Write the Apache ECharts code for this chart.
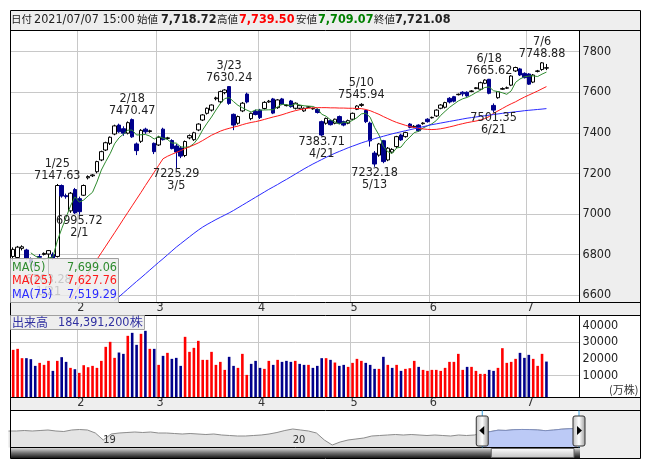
<!DOCTYPE html>
<html><head><meta charset="utf-8">
<script src="https://cdn.jsdelivr.net/npm/echarts@6/dist/echarts.min.js"></script>
<style>html,body{margin:0;padding:0;background:#fff}#c{width:653px;height:470px}</style>
</head><body><div id="c"></div>
<script>
// ---------- data ----------
const dates = ['1/8','1/12','1/13','1/14','1/15','1/18','1/19','1/20','1/21','1/22','1/25','1/26','1/27','1/28','1/29',
'2/1','2/2','2/3','2/4','2/5','2/8','2/9','2/10','2/12','2/15','2/16','2/17','2/18','2/19','2/22','2/24','2/25','2/26',
'3/1','3/2','3/3','3/4','3/5','3/8','3/9','3/10','3/11','3/12','3/15','3/16','3/17','3/18','3/19','3/22','3/23','3/24','3/25','3/26','3/29','3/30','3/31',
'4/1','4/2','4/5','4/6','4/7','4/8','4/9','4/12','4/13','4/14','4/15','4/16','4/19','4/20','4/21','4/22','4/23','4/26','4/27','4/28','4/30',
'5/6','5/7','5/10','5/11','5/12','5/13','5/14','5/17','5/18','5/19','5/20','5/21','5/24','5/25','5/26','5/27','5/28','5/31',
'6/1','6/2','6/3','6/4','6/7','6/8','6/9','6/10','6/11','6/14','6/15','6/16','6/17','6/18','6/21','6/22','6/23','6/24','6/25','6/28','6/29','6/30',
'7/1','7/2','7/5','7/6','7/7'];
const opens = [6790,6785,6830,6822,6775,6750,6790,6800,6802,6800,6790,7140,7090,7015,7120,
7075,7092,7178,7188,7208,7266,7315,7348,7394,7438,7420,7398,7465,7345,7358,7418,7406,7348,
7340,7418,7372,7362,7335,7325,7288,7375,7366,7414,7463,7496,7512,7568,7553,7598,7628,7491,7447,7508,7591,7470,7506,
7512,7520,7552,7567,7524,7567,7534,7557,7521,7521,7508,7526,7518,7515,7455,7447,7460,7447,7480,7455,7447,
7467,7516,7535,7510,7448,7300,7290,7361,7266,7305,7332,7389,7381,7443,7428,7438,7445,7467,
7474,7483,7521,7526,7570,7578,7588,7600,7600,7604,7618,7615,7644,7664,7535,7573,7615,7620,7635,7705,7715,7693,
7690,7650,7703,7712,7718.72];
const highs = [6835,6842,6845,6828,6785,6765,6802,6810,6822,6810,7147.63,7145,7100,7108,7128,
7085,7145,7190,7196,7262,7312,7356,7382,7440,7445,7432,7456,7470.47,7352,7418,7425,7415,7352,
7385,7425,7380,7368,7345,7335,7362,7392,7405,7447,7492,7525,7540,7578,7608,7615,7630.24,7495,7485,7552,7598,7500,7514,
7518,7556,7562,7572,7566,7572,7540,7562,7550,7538,7525,7532,7524,7520,7460,7475,7465,7470,7485,7460,7465,
7500,7536,7545.94,7515,7455,7310,7350,7365,7330,7324,7385,7395,7405,7448,7438,7442,7452,7472,
7480,7516,7541,7553,7576,7582,7594,7605,7604,7610,7625,7652,7664,7665.62,7545,7606,7624,7628,7684,7726,7720,7698,
7694,7690,7710,7748.88,7739.50];
const lows = [6770,6778,6820,6775,6740,6720,6780,6795,6703.28,6775,6785,7080,7075,7005,7000,
6995.72,7088,7170,7182,7200,7260,7310,7340,7388,7400,7385,7392,7375,7290,7350,7395,7400,7295,
7335,7362,7365,7318,7225.29,7275,7280,7368,7360,7408,7458,7490,7505,7560,7545,7590,7538,7413,7440,7502,7545,7462,7486,
7468,7515,7548,7492,7518,7536,7530,7524,7515,7516,7503,7522,7514,7495,7383.71,7440,7436,7442,7443,7432,7442,
7462,7512,7528,7448,7332,7232.18,7282,7250,7260,7298,7325,7360,7376,7422,7425,7405,7440,7450,
7470,7478,7516,7520,7545,7550,7584,7580,7578,7600,7615,7610,7640,7590,7501.35,7568,7612,7616,7630,7700,7680,7668,
7636,7645,7698,7706,7709.07];
const closes = [6825,6836,6838,6781,6760,6745,6786,6805,6819,6781,7140,7088,7085,7102,7005,
7011,7140,7184,7192,7258,7307,7351,7378,7434,7405,7398,7450,7380,7312,7412,7405,7410,7307,
7378,7366,7375,7322,7305,7285,7357,7386,7400,7443,7488,7521,7537,7572,7603,7611,7545,7438,7480,7546,7552,7496,7490,
7475,7550,7556,7497,7562,7541,7536,7529,7546,7534,7521,7528,7520,7500,7389,7471,7440,7467,7447,7438,7460,
7496,7532,7540,7455,7360,7246,7345,7258,7324,7318,7381,7365,7401,7427,7432,7410,7448,7455,
7476,7512,7537,7549,7552,7556,7590,7592,7582,7606,7622,7647,7660,7595,7512,7602,7618,7622,7680,7722,7685,7672,
7640,7685,7705,7745,7721.08];
// volume in 万株
const volumes = [25449,26048,20476,20476,19880,15868,17665,16467,18862,12874,18862,21077,18263,14671,13873,
11677,16268,15071,15868,14671,18862,27245,30239,20658,23853,23054,33832,35629,28443,35030,36826,26048,26048,
16467,21856,23653,20060,20658,15868,33233,24252,26646,30838,19461,19461,24252,16467,18263,13473,21276,15868,14671,23054,10479,17066,18862,
14671,14072,18862,16467,19461,18263,18862,18263,18862,17066,16467,16467,14671,15868,20476,20476,19461,17864,15868,16467,15269,
17665,20060,18862,17665,16467,14072,14072,21276,16467,14671,16467,12874,14072,14472,18862,15269,13473,12874,
13473,13473,12874,14671,18263,18263,23054,13473,15269,15269,12874,11078,11078,13473,12874,14671,26447,17665,18263,20060,23653,20658,
22455,20060,15868,23054,18439.12];
// moving averages (25 and 75 need history before the view)
const ma25 = [null,null,null,null,null,null,null,null,null,null,null,null,null,
6575,6608,6641,6675,6708,6741,6775,6808,6841,6874,6907,6940,6974,7007,7040,7073,7106,7140,7173,7206,7239,7272,
7284,7294,7303,7312,7322,7331,7340,7350,7362,7375,7388,7398,7408,7416,7422,7428,7433,7440,7446,7451,7455,
7460,7466,7472,7478,7483,7489,7496,7503,7509,7514,7518,7521,7523,7524,7524,7524,7523,7523,7522,7522,7521,
7521,7520,7519,7515,7509,7500,7491,7480,7470,7460,7451,7444,7437,7431,7426,7422,7419,7417,
7416,7417,7420,7424,7429,7434,7440,7445,7450,7454,7458,7463,7470,7480,7496,7508,7520,7532,7543,7553,7565,7576,
7586,7596,7606,7617,7627.76];
const ma75 = [null,null,null,null,null,null,null,null,null,null,null,null,null,null,null,null,null,null,null,null,null,null,null,
6573,6591,6610,6629,6648,6667,6685,6704,6723,6742,6761,6779,6798,6817,6836,6853,6870,6887,6904,6920,6935,6948,6960,6972,6983,6994,7005,7017,7030,7043,7056,7069,7082,
7095,7108,7121,7133,7145,7158,7170,7183,7196,7209,7222,7234,7246,7257,7268,7279,7289,7299,7308,7317,7326,
7334,7342,7350,7357,7364,7371,7377,7383,7389,7395,7400,7405,7410,7415,7420,7425,7430,7435,
7440,7444,7448,7452,7456,7460,7464,7468,7472,7475,7478,7481,7484,7487,7490,7493,7496,7499,7501,7504,7506,7509,
7511,7513,7515,7517,7519.29];
const maLegend = [['MA(5)','7,699.06'],['MA(25)','7,627.76'],['MA(75)','7,519.29']];
const yTicks = [6600,6800,7000,7200,7400,7600,7800];
const volTicks = [10000,20000,30000,40000];
const volGrid = [10000,30000];
const highMarks = ['1/25','2/18','3/23','5/10','6/18','7/6'];
const lowMarks = ['1/21','2/1','3/5','4/21','5/13','6/21'];
const headerStamp = '2021/07/07 15:00';
// long-range overview (half-month steps, mid-2018 .. Jul 2021)
const overview = [7235,7235,7338,7235,7338,7441,7235,7132,7441,7544,7441,6823,5381,6617,6823,6926,7029,6926,7029,6823,6823,6720,6617,6720,6617,6514,6617,6411,6308,6205,6205,6308,6411,6617,6926,7338,7647,7441,7235,6823,5381,4351,4969,5381,5587,5793,6205,6308,6411,6514,6411,6514,6411,6308,6411,6308,6205,6411,6308,6411,
6825,7100,7400,7350,7500,7550,7530,7450,7300,7420,7600,7700,7720];
const overviewYears = {12:'19', 36:'20'};
const selStart = 60;

// ---------- derived ----------
const FONT = '"DejaVu Sans Condensed","DejaVu Sans",sans-serif';
const JP = '"Noto Sans CJK JP",sans-serif';
const N = dates.length;
const cats = dates.concat(['x1','x2','x3','x4','x5','x6','x7']);
const month = i => dates[i].split('/')[0];
const isMonthStart = i => i > 0 && i < N && month(i) !== month(i - 1);
const ma5 = closes.map((c, i) => i < 4 ? null : +(closes.slice(i - 4, i + 1).reduce((a, b) => a + b, 0) / 5).toFixed(2));
const volUp = volumes.map((v, i) => (i === 0 ? closes[0] >= opens[0] : closes[i] >= closes[i - 1]) ? 1 : 0);
const VMIN = -3050, VMAX = 45993;
const fmt = v => v.toLocaleString('en-US', {minimumFractionDigits: 2, maximumFractionDigits: 2});

const marks = highMarks.map(d => { const i = dates.indexOf(d); return {coord: [d, highs[i]], label: {position: 'top', distance: 2, formatter: d + '\n' + highs[i].toFixed(2)}}; })
  .concat(lowMarks.map(d => { const i = dates.indexOf(d); return {coord: [d, lows[i]], label: {position: 'bottom', distance: 0, formatter: lows[i].toFixed(2) + '\n' + d}}; }));

const xCommon = {
  type: 'category', data: cats, boundaryGap: true,
  axisLine: {show: false}, axisTick: {show: false},
  axisLabel: {interval: (i) => isMonthStart(i), formatter: (v) => v.split('/')[0], margin: -1, lineHeight: 12, padding: [0, 0, 0, 3], fontSize: 12.5, fontFamily: FONT, color: '#333'},
  splitLine: {show: true, interval: (i) => isMonthStart(i), lineStyle: {color: '#c8c8c8', width: 1}}
};

const chart = echarts.init(document.getElementById('c'), null, {renderer: 'canvas'});
const option = {
  animation: false,
  backgroundColor: '#fff',
  grid: [
    {left: 11, top: 30.5, width: 568.5, height: 272, outerBoundsMode: 'none'},
    {left: 11, top: 315.5, width: 568.5, height: 82, outerBoundsMode: 'none'},
    {left: 8.5, top: 410.5, width: 568.5, height: 37, outerBoundsMode: 'none'}
  ],
  xAxis: [
    Object.assign({gridIndex: 0}, xCommon),
    Object.assign({gridIndex: 1}, xCommon),
    {gridIndex: 2, type: 'category', data: overview.map((v, i) => String(i)), boundaryGap: false, z: 10,
     axisLine: {show: false}, axisTick: {show: false}, splitLine: {show: false},
     axisLabel: {inside: true, interval: (i) => overviewYears[i] !== undefined, formatter: (v, i) => overviewYears[i] || '', align: 'left', margin: 2, fontSize: 11, fontFamily: FONT, color: '#333'}}
  ],
  yAxis: [
    {gridIndex: 0, type: 'value', position: 'right', min: 6563, max: 7904.5,
     axisLine: {show: false}, axisTick: {show: false, customValues: yTicks},
     axisLabel: {customValues: yTicks, formatter: v => String(v), margin: 3, align: 'left', color: '#222', fontSize: 12.5, fontFamily: FONT},
     splitLine: {show: true, lineStyle: {color: '#c8c8c8'}}},
    {gridIndex: 1, type: 'value', position: 'right', min: VMIN, max: VMAX,
     axisLine: {show: false}, axisTick: {show: false, customValues: volGrid},
     axisLabel: {customValues: volTicks, formatter: v => String(v), margin: 3, align: 'left', color: '#222', fontSize: 12.5, fontFamily: FONT},
     splitLine: {show: true, lineStyle: {color: '#c8c8c8'}}},
    {gridIndex: 2, type: 'value', min: 3836, max: 11458, show: false}
  ],
  series: [
    {type: 'candlestick', xAxisIndex: 0, yAxisIndex: 0, barWidth: 4, z: 3,
     data: dates.map((d, i) => [opens[i], closes[i], lows[i], highs[i]]),
     itemStyle: {color: '#ffffff', color0: '#00008b', borderColor: '#000000', borderColor0: '#00008b', borderWidth: 1},
     markPoint: {symbol: 'circle', symbolSize: 0, silent: true, z: 5,
       label: {show: true, color: '#222', fontSize: 12.5, fontFamily: FONT, lineHeight: 12},
       data: marks}},
    {type: 'line', name: 'MA5', xAxisIndex: 0, yAxisIndex: 0, data: ma5, symbol: 'none', z: 4, lineStyle: {color: '#2e8b2e', width: 1}},
    {type: 'line', name: 'MA25', xAxisIndex: 0, yAxisIndex: 0, data: ma25, symbol: 'none', z: 4, lineStyle: {color: '#ff1a1a', width: 1}},
    {type: 'line', name: 'MA75', xAxisIndex: 0, yAxisIndex: 0, data: ma75, symbol: 'none', z: 4, lineStyle: {color: '#2a2aff', width: 1}},
    {type: 'custom', xAxisIndex: 1, yAxisIndex: 1,
     data: volumes.map((v, i) => [i, v, volUp[i]]),
     renderItem: (params, api) => {
       const top = api.coord([api.value(0), api.value(1)]);
       const bot = api.coord([api.value(0), VMIN]);
       const w = 2.6;
       return {type: 'rect', shape: {x: top[0] - w / 2, y: top[1], width: w, height: bot[1] - top[1]},
               style: {fill: api.value(2) ? '#ff0000' : '#00008b'}};
     }},
    {type: 'line', xAxisIndex: 2, yAxisIndex: 2, data: overview, symbol: 'none', z: 2,
     lineStyle: {color: '#8c8c8c', width: 1}, areaStyle: {color: '#e4e4e4', opacity: 1}},
    {type: 'line', xAxisIndex: 2, yAxisIndex: 2, data: overview.map((v, i) => i >= selStart ? v : null), symbol: 'none', z: 3,
     lineStyle: {color: '#7f8fbf', width: 1}, areaStyle: {color: '#bccaf6', opacity: 1}}
  ]
};
chart.setOption(option);

// ---------- chrome (panels, frame, header, legends, slider handles) ----------
const hx1 = chart.convertToPixel({xAxisIndex: 2}, String(selStart));
const hx2 = chart.convertToPixel({xAxisIndex: 2}, String(overview.length - 1));
const L = (x1, y1, x2, y2, c) => ({type: 'line', z: 50, shape: {x1, y1, x2, y2}, style: {stroke: c || '#000', lineWidth: 1}});
const T = (x, y, text, font, fill, extra) => Object.assign({type: 'text', z: 60, x, y, style: Object.assign({text, font, fill, verticalAlign: 'middle'}, extra || {})});
const last = N - 1;
const HY = 19.5;
const els = [
  {type: 'rect', z: -10, shape: {x: 10.5, y: 10.5, width: 630, height: 20}, style: {fill: '#eeeeee'}},
  {type: 'rect', z: -10, shape: {x: 579.5, y: 30.5, width: 61, height: 272}, style: {fill: '#eeeeee'}},
  {type: 'rect', z: -10, shape: {x: 10.5, y: 302.5, width: 630, height: 13}, style: {fill: '#eeeeee'}},
  {type: 'rect', z: -10, shape: {x: 10.5, y: 397.5, width: 630, height: 13}, style: {fill: '#eeeeee'}},
  {type: 'rect', z: -10, shape: {x: 10.5, y: 410.5, width: 630, height: 48}, style: {fill: '#eeeeee'}},
  {type: 'rect', z: -9, shape: {x: 10.5, y: 410.5, width: 569.5, height: 37}, style: {fill: '#ffffff'}},
  // frame lines
  L(10.5, 30.5, 640.5, 30.5), L(10.5, 302.5, 640.5, 302.5), L(10.5, 315.5, 640.5, 315.5),
  L(10.5, 397.5, 640.5, 397.5), L(10.5, 410.5, 640.5, 410.5),
  L(579.5, 30.5, 579.5, 302.5), L(579.5, 315.5, 579.5, 397.5),
  {type: 'rect', z: 50, shape: {x: 10.5, y: 10.5, width: 630, height: 448}, style: {fill: null, stroke: '#000', lineWidth: 1}},
  // header
  T(11, HY, '日付', '10.5px ' + JP, '#222'),
  T(34, HY, headerStamp, '12.5px ' + FONT, '#222'),
  T(137, HY, '始値', '10.5px ' + JP, '#222'),
  T(161, HY, fmt(opens[last]), 'bold 12.5px ' + FONT, '#222'),
  T(217, HY, '高値', '10.5px ' + JP, '#222'),
  T(239, HY, fmt(highs[last]), 'bold 12.5px ' + FONT, '#ff0000'),
  T(296, HY, '安値', '10.5px ' + JP, '#222'),
  T(318, HY, fmt(lows[last]), 'bold 12.5px ' + FONT, '#008000'),
  T(374, HY, '終値', '10.5px ' + JP, '#222'),
  T(395, HY, fmt(closes[last]), 'bold 12.5px ' + FONT, '#222'),
  // MA legend box
  {type: 'rect', z: 58, shape: {x: 10.5, y: 258.5, width: 108, height: 44}, style: {fill: 'rgba(236,236,236,0.82)', stroke: '#a0a0a0', lineWidth: 1}},
  T(12, 268, maLegend[0][0], '12.5px ' + FONT, '#2e8b2e'), T(117, 268, maLegend[0][1], '12.5px ' + FONT, '#2e8b2e', {align: 'right'}),
  T(12, 281, maLegend[1][0], '12.5px ' + FONT, '#ff1a1a'), T(117, 281, maLegend[1][1], '12.5px ' + FONT, '#ff1a1a', {align: 'right'}),
  T(12, 294.5, maLegend[2][0], '12.5px ' + FONT, '#2a2aff'), T(117, 294.5, maLegend[2][1], '12.5px ' + FONT, '#2a2aff', {align: 'right'}),
  // volume box
  {type: 'rect', z: 58, shape: {x: 10.5, y: 315.5, width: 134, height: 14}, style: {fill: 'rgba(236,236,236,0.9)', stroke: '#a0a0a0', lineWidth: 1}},
  T(12, 322.5, '出来高', '12px ' + JP, '#3030a0'),
  T(58, 322.5, Math.round(volumes[last] * 10000).toLocaleString('en-US') + '株', '12.5px ' + FONT, '#3030a0'),
  T(609, 390, '(万株)', '11px ' + JP, '#333'),
  // slider scrollbar
  L(10.5, 447.5, 580, 447.5, '#000'),
  {type: 'rect', z: 40, shape: {x: 10.5, y: 448, width: 569.5, height: 10},
   style: {fill: new echarts.graphic.LinearGradient(0, 0, 0, 1, [{offset: 0, color: '#d8d8d8'}, {offset: 0.5, color: '#707070'}, {offset: 1, color: '#1a1a1a'}])}},
  {type: 'rect', z: 41, shape: {x: hx1 + 9, y: 448.5, width: hx2 - hx1 - 12, height: 9},
   style: {fill: new echarts.graphic.LinearGradient(0, 0, 0, 1, [{offset: 0, color: '#ffffff'}, {offset: 1, color: '#c0c0c0'}]), stroke: '#666', lineWidth: 1}},
  // selection edges and handles
  L(hx1, 410.5, hx1, 447.5, '#3aa0e0'), L(hx2 + 2, 410.5, hx2 + 2, 447.5, '#3aa0e0'),
  {type: 'rect', z: 55, shape: {x: hx1 - 6, y: 416, width: 12, height: 30, r: 2},
   style: {fill: new echarts.graphic.LinearGradient(0, 0, 1, 0, [{offset: 0, color: '#bdbdbd'}, {offset: 0.5, color: '#ffffff'}, {offset: 1, color: '#9a9a9a'}]), stroke: '#333', lineWidth: 1}},
  {type: 'polygon', z: 56, shape: {points: [[hx1 + 2, 426], [hx1 + 2, 435], [hx1 - 3, 430.5]]}, style: {fill: '#000'}},
  {type: 'rect', z: 55, shape: {x: hx2 - 4, y: 416, width: 12, height: 30, r: 2},
   style: {fill: new echarts.graphic.LinearGradient(0, 0, 1, 0, [{offset: 0, color: '#bdbdbd'}, {offset: 0.5, color: '#ffffff'}, {offset: 1, color: '#9a9a9a'}]), stroke: '#333', lineWidth: 1}},
  {type: 'polygon', z: 56, shape: {points: [[hx2, 426], [hx2, 435], [hx2 + 5, 430.5]]}, style: {fill: '#000'}}
];
chart.setOption({graphic: {elements: els}});
</script>
</body></html>
